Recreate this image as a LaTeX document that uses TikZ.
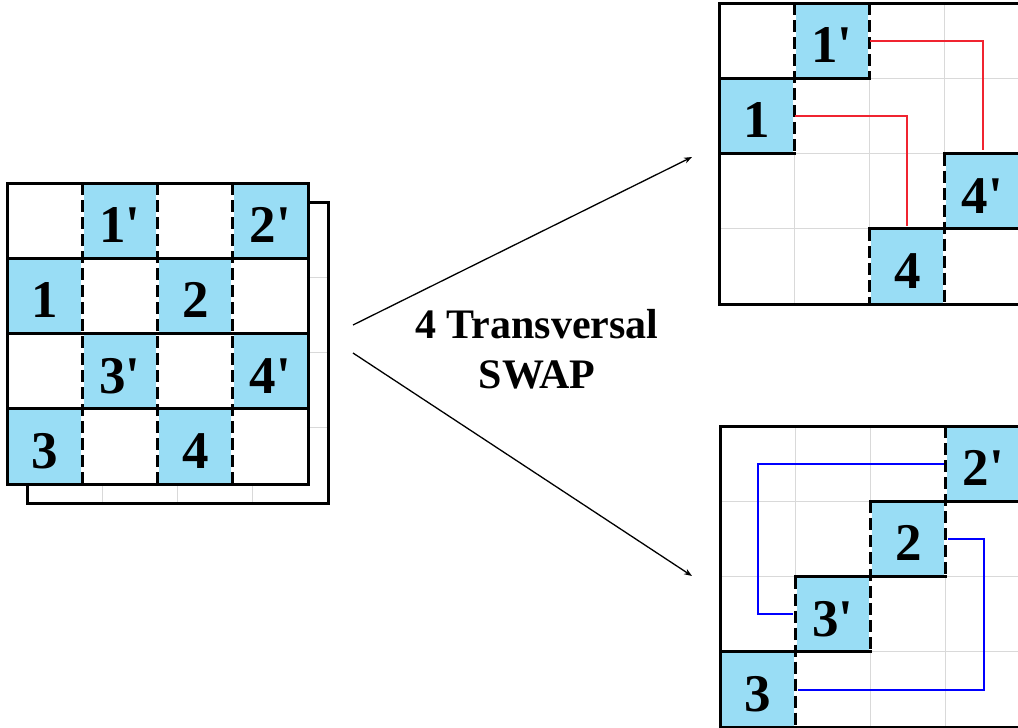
\documentclass[tikz,border=0pt]{standalone}
\usepackage{fontspec}
\setmainfont{Liberation Serif}
\newfontfamily\cellfont{Liberation Serif}[Ligatures=TeXOff]
\usetikzlibrary{arrows.meta}
\definecolor{cellblue}{RGB}{153,221,245}
\definecolor{gridgray}{RGB}{217,217,217}
\definecolor{swapred}{RGB}{240,36,48}
\definecolor{swapblue}{RGB}{0,0,255}
\def\cs{75.3}
\tikzset{
  cellbox/.style={fill=cellblue, draw=none, inner sep=0pt,
    minimum width=\cs pt, minimum height=\cs pt,
    text height=44pt, text depth=0pt,
    font=\cellfont\bfseries\fontsize{53}{53}\selectfont},
  thickline/.style={line width=3pt, line cap=rect},
  dashunder/.style={white, line width=3pt},
  dashline/.style={line width=3pt, dash pattern=on 12pt off 5pt},
  lightgrid/.style={gridgray, line width=1pt},
  borderline/.style={line width=3pt},
  redlink/.style={swapred, line width=2pt},
  bluelink/.style={swapblue, line width=2pt},
  arrowline/.style={line width=1.3pt, -{Stealth[length=8pt,width=6pt]}},
  labeltext/.style={align=center, inner sep=0pt,
    font=\bfseries\fontsize{42}{50}\selectfont}
}
\begin{document}
\begin{tikzpicture}[x=1pt,y=-1pt]
\useasboundingbox (0,0) rectangle (1018,728);

% ---------------- left: back layer ----------------
\begin{scope}[shift={(27,202)}]
  \fill[white] (0,0) rectangle (4*\cs,4*\cs);
  \foreach \k in {1,2,3}{
    \draw[lightgrid] (\k*\cs,0) -- (\k*\cs,4*\cs);
    \draw[lightgrid] (0,\k*\cs) -- (4*\cs,\k*\cs);
  }
  \draw[borderline] (0,0) rectangle (4*\cs,4*\cs);
\end{scope}

% ---------------- left: front layer ----------------
\begin{scope}[shift={(7,183)}]
  \fill[white] (0,0) rectangle (4*\cs,4*\cs);
  \node[cellbox] (L1p) at (1.5*\cs,0.5*\cs) {1'};
  \node[cellbox] (L2p) at (3.5*\cs,0.5*\cs) {2'};
  \node[cellbox] (L1)  at (0.5*\cs,1.5*\cs) {1};
  \node[cellbox] (L2)  at (2.5*\cs,1.5*\cs) {2};
  \node[cellbox] (L3p) at (1.5*\cs,2.5*\cs) {3'};
  \node[cellbox] (L4p) at (3.5*\cs,2.5*\cs) {4'};
  \node[cellbox] (L3)  at (0.5*\cs,3.5*\cs) {3};
  \node[cellbox] (L4)  at (2.5*\cs,3.5*\cs) {4};
  \foreach \k in {1,2,3}{
    \draw[dashunder] (\k*\cs,0) -- (\k*\cs,4*\cs);
    \draw[dashline] (\k*\cs,0) -- (\k*\cs,4*\cs);
  }
  \foreach \k in {1,2,3}{
    \draw[thickline] (0,\k*\cs) -- (4*\cs,\k*\cs);
  }
  \draw[borderline] (0,0) rectangle (4*\cs,4*\cs);
\end{scope}

% ---------------- top right ----------------
\begin{scope}[shift={(719,3)}]
  \fill[white] (0,0) rectangle (4*\cs,4*\cs);
  \foreach \k in {1,2,3}{
    \draw[lightgrid] (\k*\cs,0) -- (\k*\cs,4*\cs);
    \draw[lightgrid] (0,\k*\cs) -- (4*\cs,\k*\cs);
  }
  \node[cellbox] (T1p) at (1.5*\cs,0.5*\cs) {1'};
  \node[cellbox] (T1)  at (0.5*\cs,1.5*\cs) {1};
  \node[cellbox] (T4p) at (3.5*\cs,2.5*\cs) {4'};
  \node[cellbox] (T4)  at (2.5*\cs,3.5*\cs) {4};
  \draw[dashunder] (\cs,0) -- (\cs,2*\cs);
  \draw[dashline]  (\cs,0) -- (\cs,2*\cs);
  \draw[dashunder] (2*\cs,0) -- (2*\cs,\cs);
  \draw[dashline]  (2*\cs,0) -- (2*\cs,\cs);
  \draw[dashunder] (3*\cs,2*\cs) -- (3*\cs,4*\cs);
  \draw[dashline]  (3*\cs,2*\cs) -- (3*\cs,4*\cs);
  \draw[dashunder] (2*\cs,3*\cs) -- (2*\cs,4*\cs);
  \draw[dashline]  (2*\cs,3*\cs) -- (2*\cs,4*\cs);
  \draw[thickline] (0,\cs) -- (2*\cs,\cs);
  \draw[thickline] (0,2*\cs) -- (\cs,2*\cs);
  \draw[thickline] (3*\cs,2*\cs) -- (4*\cs,2*\cs);
  \draw[thickline] (2*\cs,3*\cs) -- (4*\cs,3*\cs);
  \draw[borderline] (0,0) rectangle (4*\cs,4*\cs);
\end{scope}
\draw[redlink] (T1p.east) -| ([yshift=3pt]T4p.north);
\draw[redlink] (T1.east) -| ([yshift=3pt]T4.north);

% ---------------- bottom right ----------------
\begin{scope}[shift={(720,426)}]
  \fill[white] (0,0) rectangle (4*\cs,4*\cs);
  \foreach \k in {1,2,3}{
    \draw[lightgrid] (\k*\cs,0) -- (\k*\cs,4*\cs);
    \draw[lightgrid] (0,\k*\cs) -- (4*\cs,\k*\cs);
  }
  \node[cellbox] (B2p) at (3.5*\cs,0.5*\cs) {2'};
  \node[cellbox] (B2)  at (2.5*\cs,1.5*\cs) {2};
  \node[cellbox] (B3p) at (1.5*\cs,2.5*\cs) {3'};
  \node[cellbox] (B3)  at (0.5*\cs,3.5*\cs) {3};
  \draw[dashunder] (3*\cs,0) -- (3*\cs,2*\cs);
  \draw[dashline]  (3*\cs,0) -- (3*\cs,2*\cs);
  \draw[dashunder] (2*\cs,\cs) -- (2*\cs,3*\cs);
  \draw[dashline]  (2*\cs,\cs) -- (2*\cs,3*\cs);
  \draw[dashunder] (\cs,2*\cs) -- (\cs,4*\cs);
  \draw[dashline]  (\cs,2*\cs) -- (\cs,4*\cs);
  \draw[thickline] (2*\cs,\cs) -- (4*\cs,\cs);
  \draw[thickline] (\cs,2*\cs) -- (3*\cs,2*\cs);
  \draw[thickline] (0,3*\cs) -- (2*\cs,3*\cs);
  \draw[borderline] (0,0) rectangle (4*\cs,4*\cs);
\end{scope}
\draw[bluelink] ([xshift=-2pt]B2p.west) -- (B2p.west -| B3) -- (B3p.west -| B3) -- ([xshift=-2pt]B3p.west);
\draw[bluelink] ([xshift=2pt]B2.east) -- (B2.east -| B2p) -- (B3.east -| B2p) -- ([xshift=2pt]B3.east);

% ---------------- arrows and label ----------------
\coordinate (upS) at (353,325);
\coordinate (upE) at (692,157);
\coordinate (dnS) at (353,353);
\coordinate (dnE) at (692,576);
\draw[arrowline] (upS) -- (upE);
\draw[arrowline] (dnS) -- (dnE);
\node[labeltext] (lbl) at (537,349) {4 Transversal\\SWAP};
\end{tikzpicture}
\end{document}
